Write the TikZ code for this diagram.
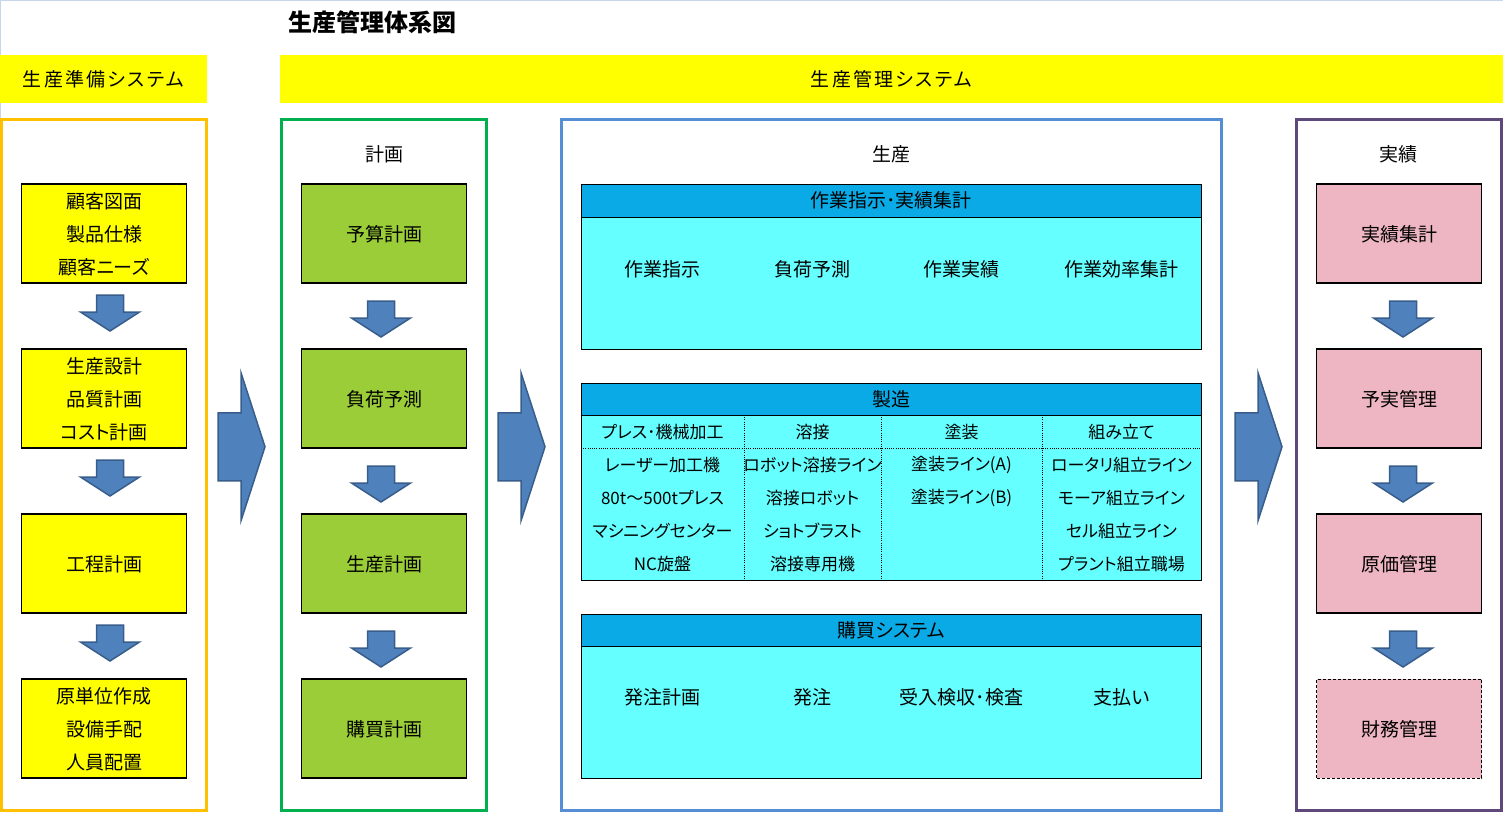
\documentclass[tikz,border=0pt]{standalone}
\usepackage{fontspec}
\setmainfont[RawFeature=+palt]{Noto Sans CJK JP}
\usetikzlibrary{positioning, calc}
\definecolor{sysyellow}{RGB}{255,255,0}
\definecolor{prepor}{RGB}{255,192,0}
\definecolor{plangreen}{RGB}{0,176,80}
\definecolor{prodblue}{RGB}{85,142,213}
\definecolor{respurple}{RGB}{95,73,122}
\definecolor{planfill}{RGB}{154,205,55}
\definecolor{resfill}{RGB}{238,182,194}
\definecolor{headblue}{RGB}{10,170,230}
\definecolor{bodycyan}{RGB}{102,255,255}
\definecolor{arrowblue}{RGB}{79,129,189}
\definecolor{arrowedge}{RGB}{56,93,138}
\definecolor{frameline}{RGB}{200,212,236}

\begin{document}
\begin{tikzpicture}[
    x=1pt, y=-1pt,
    font=\fontsize{19}{21}\selectfont,
    colbox/.style={rectangle, line width=3pt, minimum width=205.5pt, minimum height=690.5pt, outer sep=0pt},
    band/.style={rectangle, fill=sysyellow, minimum height=48pt, inner sep=0pt, outer sep=0pt, font=\fontsize{19}{21}\selectfont\addfontfeature{LetterSpace=12}},
    item/.style={rectangle, draw=black, line width=1.3pt, minimum width=165pt, minimum height=99pt, outer sep=0pt, align=center, text depth=0pt, font=\fontsize{19}{33}\selectfont},
    tabhead/.style={rectangle, draw=black, line width=0.9pt, fill=headblue, minimum width=620pt, inner sep=0pt, outer sep=0pt},
    tabbody/.style={rectangle, draw=black, line width=0.9pt, fill=bodycyan, minimum width=620pt, inner sep=0pt, outer sep=0pt},
    cell/.style={font=\fontsize{17}{19}\selectfont},
    tabdiv/.style={black, line width=0.8pt, dash pattern=on 1pt off 1.2pt},
    blkarr/.style={draw=arrowedge, fill=arrowblue, line width=1.5pt, line join=miter},
    dnarrow/.pic={\draw[blkarr] (-13.5,0) -- (13.5,0) -- (13.5,17) -- (29.5,17) -- (0,36) -- (-29.5,17) -- (-13.5,17) -- cycle;},
    rtarrow/.pic={\draw[blkarr] (0,-34) -- (23,-34) -- (23,-74) -- (47,0) -- (23,74) -- (23,34) -- (0,34) -- cycle;}
  ]
  \useasboundingbox (0,0) rectangle (1503,812);
  \draw[frameline, line width=1pt] (0.5,812) -- (0.5,0.5) -- (1503,0.5);

  % title and bands
  \node[font=\fontsize{24}{26}\selectfont\bfseries] (title) at (372.5,22) {生産管理体系図};
  \node[band, minimum width=207pt] (prepband) at (103.5,79) {生産準備システム};
  \node[band, minimum width=1223pt] (mgmtband) at (891.5,79) {生産管理システム};

  % columns
  \node[colbox, draw=prepor] (prepcol) at (103.75,464.75) {};
  \node[colbox, draw=plangreen] (plancol) at (383.75,464.75) {};
  \node[colbox, draw=prodblue, minimum width=660pt] (prodcol) at (891,464.75) {};
  \node[colbox, draw=respurple] (rescol) at (1398.75,464.75) {};
  \node (plantitle) at (384,154) {計画};
  \node (prodtitle) at (891,154) {生産};
  \node (restitle) at (1398,154) {実績};

  % preparation
  \node[item, fill=sysyellow] (prep1) at (104,233.5) {顧客図面\\製品仕様\\顧客ニーズ};
  \node[item, fill=sysyellow, below=66pt of prep1] (prep2) {生産設計\\品質計画\\コスト計画};
  \node[item, fill=sysyellow, below=66pt of prep2] (prep3) {工程計画};
  \node[item, fill=sysyellow, below=66pt of prep3] (prep4) {原単位作成\\設備手配\\人員配置};

  % plan
  \node[item, fill=planfill] (plan1) at (384,233.5) {予算計画};
  \node[item, fill=planfill, below=66pt of plan1] (plan2) {負荷予測};
  \node[item, fill=planfill, below=66pt of plan2] (plan3) {生産計画};
  \node[item, fill=planfill, below=66pt of plan3] (plan4) {購買計画};

  % results
  \node[item, fill=resfill] (res1) at (1399,233.5) {実績集計};
  \node[item, fill=resfill, below=66pt of res1] (res2) {予実管理};
  \node[item, fill=resfill, below=66pt of res2] (res3) {原価管理};
  \node[item, fill=resfill, dash pattern=on 3pt off 2pt, line width=1pt, below=66pt of res3] (res4) {財務管理};

  \foreach \a/\dx/\dy in {prep1/6/12, prep2/6/12, prep3/6/12, plan1/-3/18, plan2/-3/18, plan3/-3/18, res1/4/18, res2/4/18, res3/4/18}
    \pic at ($(\a.south)+(\dx,\dy)$) {dnarrow};
  \foreach \c/\dx in {prepcol/11.5, plancol/11.5, prodcol/14}
    \pic at ($(\c.east)+(\dx,-18)$) {rtarrow};

  % work instruction table
  \node[tabhead, minimum height=33pt] (workhead) at (891,200.5) {作業指示･実績集計};
  \node[tabbody, minimum height=132pt, below=0pt of workhead] (workbody) {};
  \node (work1) at (662.5,269) {作業指示};
  \node (work2) at (812.5,269) {負荷予測};
  \node (work3) at (961.5,269) {作業実績};
  \node (work4) at (1121.5,269) {作業効率集計};

  % manufacturing table
  \node[tabhead, minimum height=32pt] (mfghead) at (891,399) {製造};
  \node[tabbody, minimum height=165pt, below=0pt of mfghead] (mfgbody) {};
  \draw[tabdiv] (mfgbody.west |- 0,448) -- (mfgbody.east |- 0,448);
  \foreach \x in {744, 881, 1042}
    \draw[tabdiv] (\x,0 |- mfgbody.north) -- (\x,0 |- mfgbody.south);
  \foreach \t [count=\i] in {{プレス･機械加工}, {レーザー加工機}, {80t～500tプレス}, {マシニングセンター}, {NC旋盤}}
    \node[cell] (press\i) at (662.5,399+33*\i) {\t};
  \foreach \t [count=\i] in {{溶接}, {ロボット溶接ライン}, {溶接ロボット}, {ショトブラスト}, {溶接専用機}}
    \node[cell] (weld\i) at (812.5,399+33*\i) {\t};
  \foreach \t [count=\i] in {{塗装}, {塗装ライン(A)}, {塗装ライン(B)}}
    \node[cell] (paint\i) at (961.5,399+33*\i) {\t};
  \foreach \t [count=\i] in {{組み立て}, {ロータリ組立ライン}, {モーア組立ライン}, {セル組立ライン}, {プラント組立職場}}
    \node[cell] (asm\i) at (1121.5,399+33*\i) {\t};

  % purchasing table
  \node[tabhead, minimum height=32pt] (buyhead) at (891,630) {購買システム};
  \node[tabbody, minimum height=132pt, below=0pt of buyhead] (buybody) {};
  \node (buy1) at (662.5,697) {発注計画};
  \node (buy2) at (812.5,697) {発注};
  \node (buy3) at (961.5,697) {受入検収･検査};
  \node (buy4) at (1121.5,697) {支払い};
\end{tikzpicture}
\end{document}
